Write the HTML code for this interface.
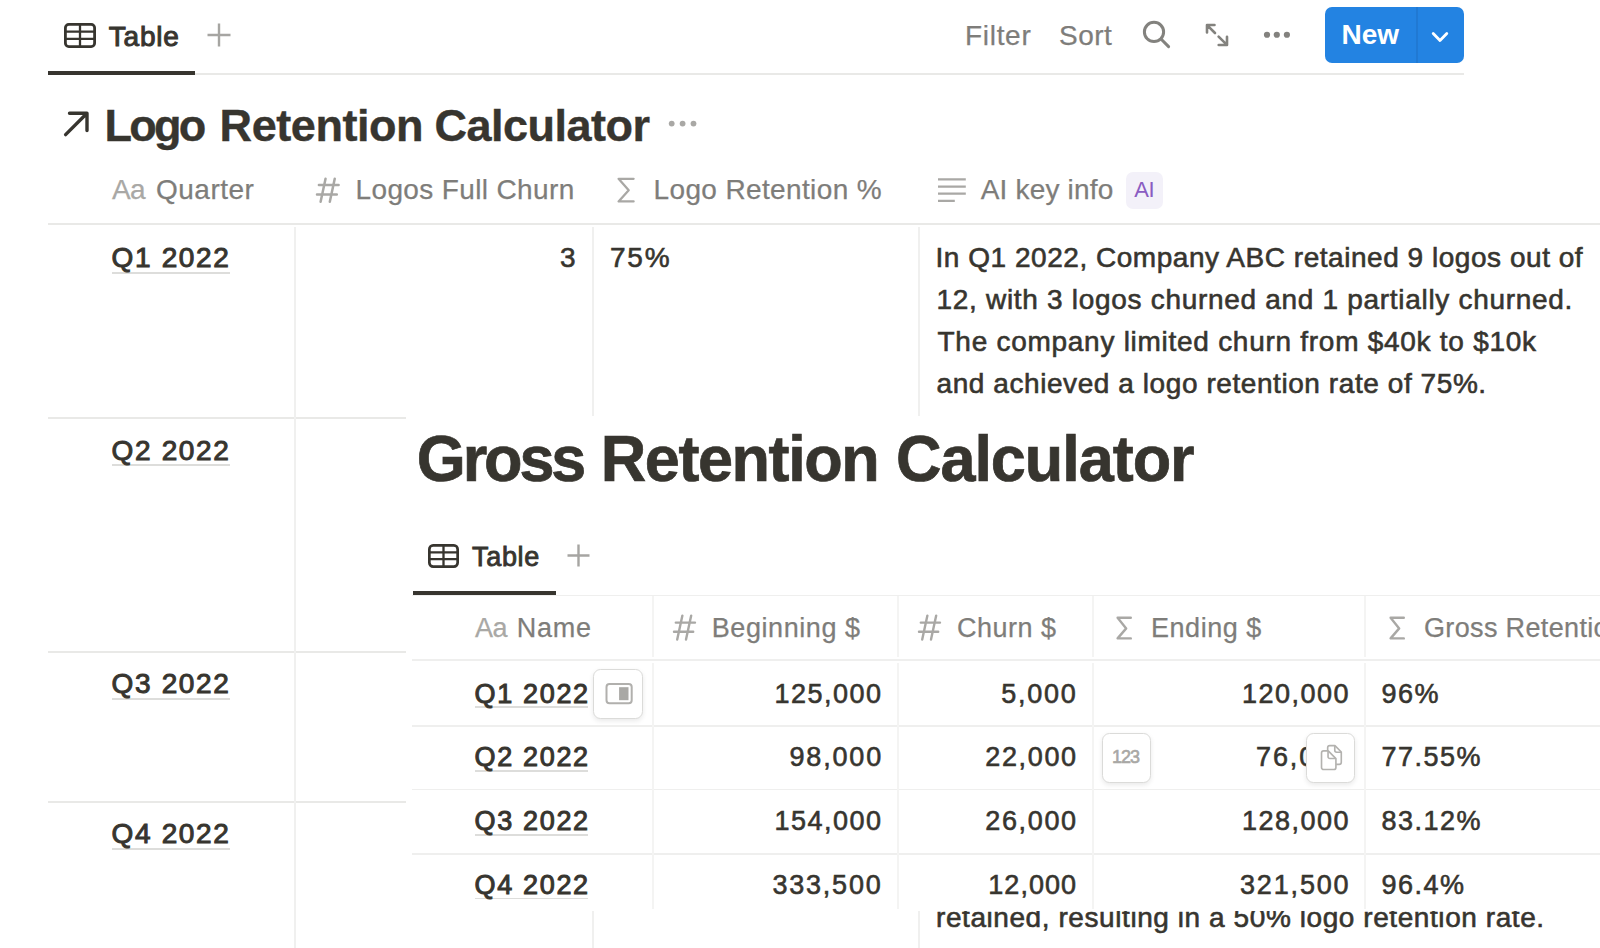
<!DOCTYPE html>
<html lang="en"><head><meta charset="utf-8"><title>Logo Retention Calculator</title>
<style>
html,body{margin:0;padding:0;background:#fff;}
body{width:1600px;height:948px;overflow:hidden;position:relative;font-family:"Liberation Sans", sans-serif;color:#37352f;}
.t{position:absolute;white-space:pre;line-height:1;font-family:"Liberation Sans", sans-serif;}
.l{position:absolute;background:#e9e9e7;}
.v{position:absolute;background:#f0f0ef;width:2px;}
#ov .l{background:#efefee;}
#ov .v{background:#f4f4f3;}
.a{position:absolute;}
svg{position:absolute;overflow:visible;}
#ov{position:absolute;left:406px;top:416px;width:1194px;height:495px;background:#fff;overflow:hidden;}
#ovi{position:absolute;left:-406px;top:-416px;width:1600px;height:948px;}
.btn{position:absolute;width:47.4px;height:48.2px;border:1.5px solid #dbdbd9;border-radius:7.5px;background:#fff;box-shadow:0 2px 5px rgba(15,15,15,0.09);}
.u{position:absolute;height:2px;background:#dddddb;}
</style></head>
<body>
<!-- ===== background: Logo Retention Calculator database ===== -->
<!-- toolbar -->
<div class="l" style="left:48px;top:73px;width:1416px;height:2px;"></div>
<div class="a" style="left:48px;top:71px;width:147px;height:4px;background:#37352f;"></div>
<svg style="left:64px;top:23px;" width="32" height="25" viewBox="0 0 32 25" fill="none" stroke="#37352f"><rect x="1.4" y="1.4" width="29.2" height="22.2" rx="3.4" stroke-width="2.8"/><path d="M1.4 8.7H30.6M1.4 15.8H30.6M16 1.4V23.6" stroke-width="2.3"/></svg>
<svg style="left:207px;top:23px;" width="24" height="24" viewBox="0 0 24 24" fill="none" stroke="#a6a5a2" stroke-width="2.4"><path d="M12 0.5V23.5M0.5 12H23.5"/></svg>
<svg style="left:1140px;top:18px;" width="32" height="32" viewBox="0 0 32 32" fill="none" stroke="#83827e" stroke-width="3" stroke-linecap="round"><circle cx="14" cy="13.9" r="9.6"/><path d="M21 21L28.6 28.6"/></svg>
<svg style="left:1200px;top:18px;" width="32" height="32" viewBox="0 0 32 32" fill="none" stroke="#83827e" stroke-width="2.6" stroke-linecap="round" stroke-linejoin="round"><path d="M14.5 7H7V14.5M7.3 7.3L15 15M18.7 27H27V18.7M26.7 26.7L18.6 18.6"/></svg>
<svg style="left:1260px;top:28px;" width="32" height="14" viewBox="0 0 32 14" fill="#83827e"><circle cx="7" cy="6.75" r="3.1"/><circle cx="16.8" cy="6.75" r="3.1"/><circle cx="26.9" cy="6.75" r="3.1"/></svg>
<div class="a" style="left:1325px;top:7px;width:139px;height:56px;border-radius:7px;background:#2383e2;"></div>
<div class="a" style="left:1416px;top:7px;width:1.5px;height:56px;background:#2079d3;"></div>
<svg style="left:1428px;top:28px;" width="24" height="18" viewBox="0 0 24 18" fill="none" stroke="#fff" stroke-width="2.8" stroke-linecap="round" stroke-linejoin="round"><path d="M5.2 5.5L12 12.5L18.8 5.5"/></svg>
<!-- database title -->
<svg style="left:60px;top:108px;" width="32" height="32" viewBox="0 0 32 32" fill="none" stroke="#37352f" stroke-width="3.4" stroke-linecap="round" stroke-linejoin="round"><path d="M9.5 5.2H27V22.5M26.5 5.7L5.6 26.6"/></svg>
<svg style="left:666px;top:117px;" width="34" height="14" viewBox="0 0 34 14" fill="#a9a8a5"><circle cx="5.7" cy="6.6" r="2.9"/><circle cx="16.6" cy="6.6" r="2.9"/><circle cx="27.5" cy="6.6" r="2.9"/></svg>
<!-- header icons -->
<svg style="left:312px;top:174px;" width="32" height="32" viewBox="0 0 32 32" fill="none" stroke="#a9a8a5" stroke-width="2.5" stroke-linecap="round"><path d="M13.54 4.8L8.61 27.8M22.74 4.8L17.81 27.8M6.9 11H26.6M5 20.5H24.8"/></svg>
<svg style="left:612px;top:174px;" width="28" height="32" viewBox="0 0 28 32" fill="none" stroke="#a9a8a5" stroke-width="2.3" stroke-linecap="round" stroke-linejoin="round"><path d="M21.6 4.8H6.6L16.7 16.3L6.6 27.4H21.6"/></svg>
<svg style="left:936px;top:176px;" width="32" height="28" viewBox="0 0 32 28" fill="none" stroke="#a9a8a5" stroke-width="2.2"><path d="M2 3.3H29.8M2 10.6H29.8M2 17.6H29.8M2 24.8H18.8"/></svg>
<div class="a" style="left:1126px;top:171.5px;width:36.5px;height:37px;border-radius:7px;background:#f3f1f9;"></div>
<!-- grid lines -->
<div class="l" style="left:48px;top:222.5px;width:1552px;height:2px;"></div>
<div class="l" style="left:48px;top:417px;width:1552px;height:2px;"></div>
<div class="l" style="left:48px;top:651.2px;width:1552px;height:1.8px;"></div>
<div class="l" style="left:48px;top:801.2px;width:1552px;height:1.8px;"></div>
<div class="v" style="left:294px;top:227px;height:721px;"></div>
<div class="v" style="left:592px;top:227px;height:721px;"></div>
<div class="v" style="left:918px;top:227px;height:721px;"></div>
<!-- title underlines -->
<div class="u" style="left:112px;top:272px;width:118px;"></div>
<div class="u" style="left:112px;top:464px;width:118px;"></div>
<div class="u" style="left:112px;top:698.2px;width:118px;"></div>
<div class="u" style="left:112px;top:848px;width:118px;"></div>

<span class="t" style="left:108.75px;top:22.75px;font-size:28px;color:#37352f;letter-spacing:0.812px;-webkit-text-stroke:1.0px currentColor;">Table</span>
<span class="t" style="left:965.00px;top:21.75px;font-size:28px;color:#7e7d7a;letter-spacing:0.7px;-webkit-text-stroke:0.25px currentColor;">Filter</span>
<span class="t" style="left:1059.00px;top:21.75px;font-size:28px;color:#7e7d7a;letter-spacing:0.5px;-webkit-text-stroke:0.25px currentColor;">Sort</span>
<span class="t" style="left:1341.50px;top:20.75px;font-size:28px;color:#fff;font-weight:700;">New</span>
<span class="t" style="left:104.50px;top:103.25px;font-size:45px;color:#37352f;font-weight:700;letter-spacing:-2.733px;-webkit-text-stroke:0.4px currentColor;">Logo</span>
<span class="t" style="left:219.60px;top:103.25px;font-size:45px;color:#37352f;font-weight:700;letter-spacing:-0.437px;-webkit-text-stroke:0.4px currentColor;">Retention</span>
<span class="t" style="left:434.50px;top:103.25px;font-size:45px;color:#37352f;font-weight:700;letter-spacing:-0.5px;-webkit-text-stroke:0.4px currentColor;">Calculator</span>
<span class="t" style="left:112.00px;top:175.75px;font-size:28px;color:#a9a8a5;-webkit-text-stroke:0.25px currentColor;">A</span>
<span class="t" style="left:130.00px;top:175.75px;font-size:28px;color:#a9a8a5;-webkit-text-stroke:0.25px currentColor;">a</span>
<span class="t" style="left:156.00px;top:175.75px;font-size:28px;color:#7e7d7a;letter-spacing:0.5px;-webkit-text-stroke:0.25px currentColor;">Quarter</span>
<span class="t" style="left:355.50px;top:175.75px;font-size:28px;color:#7e7d7a;letter-spacing:0.367px;-webkit-text-stroke:0.25px currentColor;">Logos Full Churn</span>
<span class="t" style="left:653.50px;top:175.75px;font-size:28px;color:#7e7d7a;letter-spacing:0.367px;-webkit-text-stroke:0.25px currentColor;">Logo Retention %</span>
<span class="t" style="left:980.70px;top:175.75px;font-size:28px;color:#7e7d7a;letter-spacing:0.18px;-webkit-text-stroke:0.25px currentColor;">AI key info</span>
<span class="t" style="left:1134.20px;top:178.75px;font-size:22px;color:#8a5cc2;letter-spacing:-0.4px;">AI</span>
<span class="t" style="left:111.50px;top:243.75px;font-size:28px;color:#37352f;letter-spacing:1.667px;-webkit-text-stroke:1.0px currentColor;">Q1 2022</span>
<span class="t" style="left:111.50px;top:436.75px;font-size:28px;color:#37352f;letter-spacing:1.667px;-webkit-text-stroke:1.0px currentColor;">Q2 2022</span>
<span class="t" style="left:111.50px;top:669.75px;font-size:28px;color:#37352f;letter-spacing:1.667px;-webkit-text-stroke:1.0px currentColor;">Q3 2022</span>
<span class="t" style="left:111.50px;top:819.75px;font-size:28px;color:#37352f;letter-spacing:1.667px;-webkit-text-stroke:1.0px currentColor;">Q4 2022</span>
<span class="t" style="left:560.00px;top:243.75px;font-size:28px;color:#37352f;-webkit-text-stroke:0.6px currentColor;">3</span>
<span class="t" style="left:610.00px;top:243.75px;font-size:28px;color:#37352f;letter-spacing:1.75px;-webkit-text-stroke:0.6px currentColor;">75%</span>
<span class="t" style="left:935.50px;top:243.75px;font-size:28px;color:#37352f;letter-spacing:0.533px;-webkit-text-stroke:0.6px currentColor;">In Q1 2022, Company ABC retained 9 logos out of</span>
<span class="t" style="left:936.50px;top:285.75px;font-size:28px;color:#37352f;letter-spacing:0.698px;-webkit-text-stroke:0.6px currentColor;">12, with 3 logos churned and 1 partially churned.</span>
<span class="t" style="left:937.50px;top:327.75px;font-size:28px;color:#37352f;letter-spacing:0.726px;-webkit-text-stroke:0.6px currentColor;">The company limited churn from $40k to $10k</span>
<span class="t" style="left:936.50px;top:369.75px;font-size:28px;color:#37352f;letter-spacing:0.573px;-webkit-text-stroke:0.6px currentColor;">and achieved a logo retention rate of 75%.</span>
<span class="t" style="left:936.00px;top:903.75px;font-size:28px;color:#37352f;letter-spacing:0.573px;-webkit-text-stroke:0.6px currentColor;">retained, resulting in a 50% logo retention rate.</span>
<!-- ===== overlay: Gross Retention Calculator ===== -->
<div id="ov"><div id="ovi">
<!-- view tabs -->
<div class="l" style="left:412px;top:594.5px;width:1188px;height:1.5px;"></div>
<div class="a" style="left:412.5px;top:591px;width:143px;height:4px;background:#37352f;"></div>
<svg style="left:428px;top:544px;" width="31" height="24" viewBox="0 0 31 24" fill="none" stroke="#37352f"><rect x="1.35" y="1.35" width="28.3" height="21.3" rx="3.8" stroke-width="2.7"/><path d="M1.35 8.4H29.65M1.35 15.2H29.65M15.5 1.35V22.65" stroke-width="2.3"/></svg>
<svg style="left:566.9px;top:543.8px;" width="23" height="23" viewBox="0 0 23 23" fill="none" stroke="#a6a5a2" stroke-width="2.4"><path d="M11.5 0.5V22.5M0.5 11.5H22.5"/></svg>
<!-- header icons -->
<svg style="left:669.2px;top:611px;" width="32" height="32" viewBox="0 0 32 32" fill="none" stroke="#a9a8a5" stroke-width="2.4" stroke-linecap="round"><path d="M13.4 4.6L8.2 28.6M22.2 4.6L17 28.6M6.8 11.6H26M5 20.7H24.2"/></svg>
<svg style="left:914.4px;top:611px;" width="32" height="32" viewBox="0 0 32 32" fill="none" stroke="#a9a8a5" stroke-width="2.4" stroke-linecap="round"><path d="M13.4 4.6L8.2 28.6M22.2 4.6L17 28.6M6.8 11.6H26M5 20.7H24.2"/></svg>
<svg style="left:1111px;top:612px;" width="28" height="32" viewBox="0 0 28 32" fill="none" stroke="#a9a8a5" stroke-width="2.4" stroke-linecap="round" stroke-linejoin="round"><path d="M19.8 5.8H6.6L15.2 16.4L6.6 26.4H19.8"/></svg>
<svg style="left:1383.5px;top:612px;" width="28" height="32" viewBox="0 0 28 32" fill="none" stroke="#a9a8a5" stroke-width="2.4" stroke-linecap="round" stroke-linejoin="round"><path d="M19.8 5.8H6.6L15.2 16.4L6.6 26.4H19.8"/></svg>
<!-- grid -->
<div class="l" style="left:412px;top:658.5px;width:1188px;height:2px;"></div>
<div class="l" style="left:412px;top:725px;width:1188px;height:1.7px;"></div>
<div class="l" style="left:412px;top:788.8px;width:1188px;height:1.7px;"></div>
<div class="l" style="left:412px;top:853px;width:1188px;height:1.7px;"></div>
<div class="v" style="left:652.1px;top:596px;height:61px;"></div>
<div class="v" style="left:896.8px;top:596px;height:61px;"></div>
<div class="v" style="left:1091.6px;top:596px;height:61px;"></div>
<div class="v" style="left:1364.2px;top:596px;height:61px;"></div>
<div class="v" style="left:652.1px;top:663px;height:246px;"></div>
<div class="v" style="left:896.8px;top:663px;height:246px;"></div>
<div class="v" style="left:1091.6px;top:663px;height:246px;"></div>
<div class="v" style="left:1364.2px;top:663px;height:246px;"></div>
<!-- title underlines -->
<div class="u" style="left:475px;top:706.20px;width:113px;height:1.7px;"></div>
<div class="u" style="left:475px;top:770.05px;width:113px;height:1.7px;"></div>
<div class="u" style="left:475px;top:833.90px;width:113px;height:1.7px;"></div>
<div class="u" style="left:475px;top:897.75px;width:113px;height:1.7px;"></div>

<span class="t" style="left:416.75px;top:427.75px;font-size:63px;color:#37352f;font-weight:700;letter-spacing:-3.125px;-webkit-text-stroke:0.7px currentColor;transform:scaleY(1.04);transform-origin:0 53.5px;">Gross</span>
<span class="t" style="left:600.75px;top:427.75px;font-size:63px;color:#37352f;font-weight:700;letter-spacing:-1.438px;-webkit-text-stroke:0.7px currentColor;transform:scaleY(1.04);transform-origin:0 53.5px;">Retention</span>
<span class="t" style="left:896.00px;top:427.75px;font-size:63px;color:#37352f;font-weight:700;letter-spacing:-1.056px;-webkit-text-stroke:0.7px currentColor;transform:scaleY(1.04);transform-origin:0 53.5px;">Calculator</span>
<span class="t" style="left:472.00px;top:543.75px;font-size:27px;color:#37352f;letter-spacing:0.688px;-webkit-text-stroke:0.85px currentColor;">Table</span>
<span class="t" style="left:475.00px;top:614.75px;font-size:27px;color:#a9a8a5;-webkit-text-stroke:0.25px currentColor;">A</span>
<span class="t" style="left:492.50px;top:614.75px;font-size:27px;color:#a9a8a5;-webkit-text-stroke:0.25px currentColor;">a</span>
<span class="t" style="left:516.75px;top:614.75px;font-size:27px;color:#7e7d7a;letter-spacing:0.75px;-webkit-text-stroke:0.25px currentColor;">Name</span>
<span class="t" style="left:711.75px;top:614.75px;font-size:27px;color:#7e7d7a;letter-spacing:0.575px;-webkit-text-stroke:0.25px currentColor;">Beginning $</span>
<span class="t" style="left:957.00px;top:614.75px;font-size:27px;color:#7e7d7a;letter-spacing:0.5px;-webkit-text-stroke:0.25px currentColor;">Churn $</span>
<span class="t" style="left:1151.00px;top:614.75px;font-size:27px;color:#7e7d7a;letter-spacing:0.536px;-webkit-text-stroke:0.25px currentColor;">Ending $</span>
<span class="t" style="left:1424.00px;top:614.75px;font-size:27px;color:#7e7d7a;letter-spacing:0.35px;-webkit-text-stroke:0.25px currentColor;">Gross Retention %</span>
<span class="t" style="left:474.50px;top:680.75px;font-size:27px;color:#37352f;letter-spacing:1.667px;-webkit-text-stroke:1.0px currentColor;">Q1 2022</span>
<span class="t" style="left:774.50px;top:680.75px;font-size:27px;color:#37352f;letter-spacing:1.467px;-webkit-text-stroke:0.6px currentColor;">125,000</span>
<span class="t" style="left:1001.30px;top:680.75px;font-size:27px;color:#37352f;letter-spacing:1.75px;-webkit-text-stroke:0.6px currentColor;">5,000</span>
<span class="t" style="left:1242.00px;top:680.75px;font-size:27px;color:#37352f;letter-spacing:1.5px;-webkit-text-stroke:0.6px currentColor;">120,000</span>
<span class="t" style="left:1381.50px;top:680.75px;font-size:27px;color:#37352f;letter-spacing:1.5px;-webkit-text-stroke:0.6px currentColor;">96%</span>
<span class="t" style="left:474.50px;top:743.75px;font-size:27px;color:#37352f;letter-spacing:1.667px;-webkit-text-stroke:1.0px currentColor;">Q2 2022</span>
<span class="t" style="left:789.50px;top:743.75px;font-size:27px;color:#37352f;letter-spacing:1.82px;-webkit-text-stroke:0.6px currentColor;">98,000</span>
<span class="t" style="left:985.30px;top:743.75px;font-size:27px;color:#37352f;letter-spacing:1.64px;-webkit-text-stroke:0.6px currentColor;">22,000</span>
<span class="t" style="left:1256.00px;top:743.75px;font-size:27px;color:#37352f;letter-spacing:1.9px;-webkit-text-stroke:0.6px currentColor;">76,000</span>
<span class="t" style="left:1381.50px;top:743.75px;font-size:27px;color:#37352f;letter-spacing:1.5px;-webkit-text-stroke:0.6px currentColor;">77.55%</span>
<span class="t" style="left:474.50px;top:807.75px;font-size:27px;color:#37352f;letter-spacing:1.667px;-webkit-text-stroke:1.0px currentColor;">Q3 2022</span>
<span class="t" style="left:774.50px;top:807.75px;font-size:27px;color:#37352f;letter-spacing:1.467px;-webkit-text-stroke:0.6px currentColor;">154,000</span>
<span class="t" style="left:985.30px;top:807.75px;font-size:27px;color:#37352f;letter-spacing:1.64px;-webkit-text-stroke:0.6px currentColor;">26,000</span>
<span class="t" style="left:1242.00px;top:807.75px;font-size:27px;color:#37352f;letter-spacing:1.5px;-webkit-text-stroke:0.6px currentColor;">128,000</span>
<span class="t" style="left:1381.50px;top:807.75px;font-size:27px;color:#37352f;letter-spacing:1.5px;-webkit-text-stroke:0.6px currentColor;">83.12%</span>
<span class="t" style="left:474.50px;top:871.75px;font-size:27px;color:#37352f;letter-spacing:1.667px;-webkit-text-stroke:1.0px currentColor;">Q4 2022</span>
<span class="t" style="left:772.50px;top:871.75px;font-size:27px;color:#37352f;letter-spacing:1.767px;-webkit-text-stroke:0.6px currentColor;">333,500</span>
<span class="t" style="left:988.30px;top:871.75px;font-size:27px;color:#37352f;letter-spacing:1.04px;-webkit-text-stroke:0.6px currentColor;">12,000</span>
<span class="t" style="left:1240.00px;top:871.75px;font-size:27px;color:#37352f;letter-spacing:1.833px;-webkit-text-stroke:0.6px currentColor;">321,500</span>
<span class="t" style="left:1381.50px;top:871.75px;font-size:27px;color:#37352f;letter-spacing:1.5px;-webkit-text-stroke:0.6px currentColor;">96.4%</span>
<!-- hover buttons -->
<div class="btn" style="left:593.3px;top:668.5px;"></div>
<svg style="left:604px;top:681px;" width="30" height="25" viewBox="0 0 30 25" fill="none"><rect x="2.5" y="3" width="25.2" height="19.2" rx="3" stroke="#b1b0ad" stroke-width="2"/><rect x="15.1" y="6.2" width="9.4" height="13" fill="#a9a8a5"/></svg>
<div class="btn" style="left:1102px;top:732.7px;"></div>
<div class="btn" style="left:1305.6px;top:732.7px;"></div>
<svg style="left:1318.5px;top:742.6px;" width="25" height="28.8" viewBox="0 0 26 30" fill="none" stroke="#b3b2af" stroke-width="1.7" stroke-linejoin="round"><path d="M9 8V5A2.2 2.2 0 0 1 11.2 2.8H16.6L23.2 9.4V20A2.2 2.2 0 0 1 21 22.2H17.8"/><path d="M16.4 3V7.6A2 2 0 0 0 18.4 9.6H23"/><path d="M4.8 8.2H9.6L17.6 16.2V25.4A2.2 2.2 0 0 1 15.4 27.6H4.8A2.2 2.2 0 0 1 2.6 25.4V10.4A2.2 2.2 0 0 1 4.8 8.2Z"/><path d="M9.4 8.4V14.2A2 2 0 0 0 11.4 16.2H17.4"/></svg>

<span class="t" style="left:1112.00px;top:748.25px;font-size:18px;color:#a9a8a5;letter-spacing:-1.0px;-webkit-text-stroke:0.6px currentColor;">123</span>
</div></div>
</body></html>
